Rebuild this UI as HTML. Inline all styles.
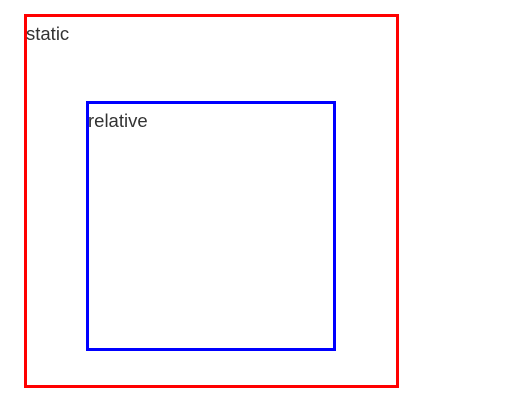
<!DOCTYPE html>
<html><head><style>
body{margin:0;width:513px;height:408px;background:#fff;position:relative;overflow:hidden;font-family:"Liberation Sans",sans-serif;color:#333;font-size:18.5px}
.box{position:absolute;box-sizing:border-box;border:3px solid}
.lbl{position:absolute;left:-1px;top:6px;line-height:22px}
</style></head><body>
<div class="box" style="left:24px;top:14px;width:375px;height:374px;border-color:#f00">
<span class="lbl">static</span>
</div>
<div class="box" style="left:86px;top:101px;width:250px;height:250px;border-color:#00f">
<span class="lbl">relative</span>
</div>
</body></html>
